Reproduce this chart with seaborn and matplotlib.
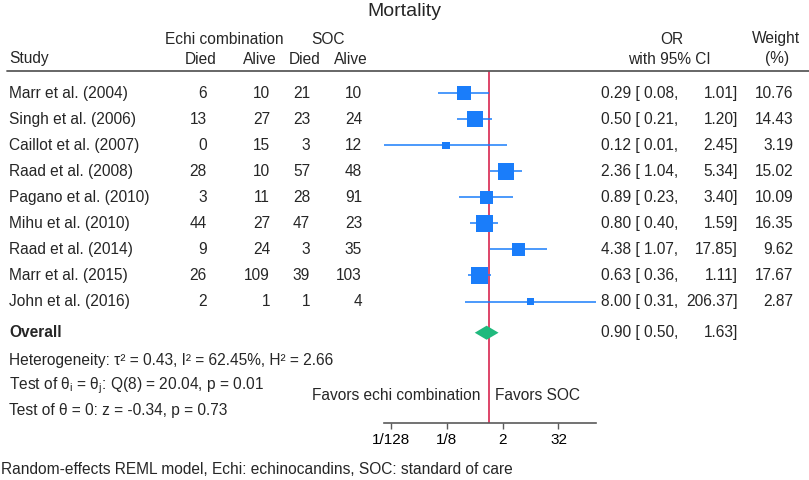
import numpy as np
import pandas as pd
import seaborn as sns
import matplotlib.pyplot as plt
from matplotlib import transforms
from matplotlib.lines import Line2D
from matplotlib.ticker import NullLocator

studies = ["Marr et al. (2004)", "Singh et al. (2006)", "Caillot et al. (2007)",
           "Raad et al. (2008)", "Pagano et al. (2010)", "Mihu et al. (2010)",
           "Raad et al. (2014)", "Marr et al. (2015)", "John et al. (2016)"]
echi_died = [6, 13, 0, 28, 3, 44, 9, 26, 2]
echi_alive = [10, 27, 15, 10, 11, 27, 24, 109, 1]
soc_died = [21, 23, 3, 57, 28, 47, 3, 39, 1]
soc_alive = [10, 24, 12, 48, 91, 23, 35, 103, 4]
odds_ratio = [0.29, 0.50, 0.12, 2.36, 0.89, 0.80, 4.38, 0.63, 8.00]
ci_low = [0.08, 0.21, 0.0055, 1.04, 0.23, 0.40, 1.07, 0.36, 0.31]
ci_high = [1.01, 1.20, 2.45, 5.34, 3.40, 1.59, 17.85, 1.11, 206.37]
weight = [10.76, 14.43, 3.19, 15.02, 10.09, 16.35, 9.62, 17.67, 2.87]
overall_or, overall_low, overall_high = 0.90, 0.50, 1.63
tick_values = [1 / 128, 1 / 8, 2, 32]
tick_labels = ["1/128", "1/8", "2", "32"]

W, H = 809, 480
BLUE = "#1a7dfa"
RED = "#d8254f"
GREEN = "#20b97d"
GREY = "#5a5a5a"


def fx(x):
    return x / W


def fy(y):
    return 1 - y / H


sns.set_theme(style="white")
plt.rcParams['font.family'] = ['Liberation Sans', 'DejaVu Sans']
plt.rcParams['mathtext.fontset'] = 'custom'
plt.rcParams['mathtext.rm'] = 'Liberation Sans'

df = pd.DataFrame({"study": studies, "or": odds_ratio, "lo": ci_low,
                   "hi": ci_high, "weight": weight})
df["row"] = np.arange(len(df))
overall_row = 9.2

fig = plt.figure(figsize=(W / 100, H / 100), dpi=100)
ax = fig.add_axes([fx(384), fy(423), fx(596) - fx(384), fy(71) - fy(423)])

ax.axvline(1, color=RED, lw=1.2, zorder=1)
ax.hlines(df["row"], df["lo"], df["hi"], color=BLUE, lw=1.1, zorder=2)
sns.scatterplot(data=df, x="or", y="row", size="weight",
                sizes=(9.15 * min(weight), 9.15 * max(weight)),
                marker="s", color=BLUE, linewidth=0, legend=False, ax=ax, zorder=3)
h = 0.27
ax.fill([overall_low, overall_or, overall_high, overall_or],
        [overall_row, overall_row - h, overall_row, overall_row + h],
        color=GREEN, lw=0, zorder=3)

ax.set_xscale("log", base=2)
ax.set_xlim(min(ci_low), max(ci_high))
ax.set_ylim(12.67, -0.86)
ax.set_xticks(tick_values)
ax.set_xticklabels(tick_labels)
ax.xaxis.set_minor_locator(NullLocator())
ax.set_yticks([])
ax.set_xlabel("")
ax.set_ylabel("")
for side in ["top", "left", "right"]:
    ax.spines[side].set_visible(False)
ax.spines["bottom"].set_color(GREY)
ax.spines["bottom"].set_linewidth(1.2)
ax.tick_params(axis="x", bottom=True, direction="out", length=4, width=1,
               color=GREY, labelsize=11, pad=3, labelcolor="black")
ax.patch.set_alpha(0)

fs = 11.2
tr = transforms.blended_transform_factory(fig.transFigure, ax.transData)

# header
fig.text(0.5, fy(12), "Mortality", ha="center", va="center", fontsize=14)
fig.text(fx(224.5), fy(39), "Echi combination", ha="center", va="center", fontsize=fs)
fig.text(fx(328.5), fy(39), "SOC", ha="center", va="center", fontsize=fs)
fig.text(fx(672), fy(39), "OR", ha="center", va="center", fontsize=fs)
fig.text(fx(776), fy(39), "Weight", ha="center", va="center", fontsize=fs)
fig.text(fx(9), fy(59), "Study", ha="left", va="center", fontsize=fs)
fig.text(fx(201), fy(59), "Died", ha="center", va="center", fontsize=fs)
fig.text(fx(259.5), fy(59), "Alive", ha="center", va="center", fontsize=fs)
fig.text(fx(305), fy(59), "Died", ha="center", va="center", fontsize=fs)
fig.text(fx(351), fy(59), "Alive", ha="center", va="center", fontsize=fs)
fig.text(fx(669), fy(59), "with 95% CI", ha="center", va="center", fontsize=fs)
fig.text(fx(777), fy(59), "(%)", ha="center", va="center", fontsize=fs)
fig.add_artist(Line2D([fx(7), 1], [fy(71), fy(71)], color=GREY, lw=1.3))

# study rows
for i, r in df.iterrows():
    y = r["row"]
    fig.text(fx(9), y, r["study"], transform=tr, ha="left", va="center", fontsize=fs)
    fig.text(fx(207), y, str(echi_died[i]), transform=tr, ha="right", va="center", fontsize=fs)
    fig.text(fx(270), y, str(echi_alive[i]), transform=tr, ha="right", va="center", fontsize=fs)
    fig.text(fx(310), y, str(soc_died[i]), transform=tr, ha="right", va="center", fontsize=fs)
    fig.text(fx(362), y, str(soc_alive[i]), transform=tr, ha="right", va="center", fontsize=fs)
    fig.text(fx(601), y, f"{r['or']:.2f} [{r['lo']:5.2f},", transform=tr,
             ha="left", va="center", fontsize=fs)
    fig.text(fx(738), y, f"{r['hi']:.2f}]", transform=tr, ha="right", va="center", fontsize=fs)
    fig.text(fx(793), y, f"{r['weight']:.2f}", transform=tr, ha="right", va="center", fontsize=fs)

# overall
fig.text(fx(9), overall_row, "Overall", transform=tr, ha="left", va="center",
         fontsize=fs, fontweight="bold")
fig.text(fx(601), overall_row, f"{overall_or:.2f} [{overall_low:5.2f},", transform=tr,
         ha="left", va="center", fontsize=fs)
fig.text(fx(738), overall_row, f"{overall_high:.2f}]", transform=tr,
         ha="right", va="center", fontsize=fs)

fig.text(fx(9), fy(360), "Heterogeneity: τ² = 0.43, I² = 62.45%, H² = 2.66",
         ha="left", va="center", fontsize=fs)
fig.text(fx(9), fy(386), "Test of θ$_\\mathregular{i}$ = θ$_\\mathregular{j}$: Q(8) = 20.04, p = 0.01",
         ha="left", va="center", fontsize=fs)
fig.text(fx(9), fy(410), "Test of θ = 0: z = -0.34, p = 0.73",
         ha="left", va="center", fontsize=fs)
fig.text(fx(481), fy(395), "Favors echi combination", ha="right", va="center", fontsize=fs)
fig.text(fx(495), fy(395), "Favors SOC", ha="left", va="center", fontsize=fs)

fig.text(fx(1), fy(470), "Random-effects REML model, Echi: echinocandins, SOC: standard of care",
         ha="left", va="center", fontsize=fs)

fig.savefig("out.png", dpi=100)
